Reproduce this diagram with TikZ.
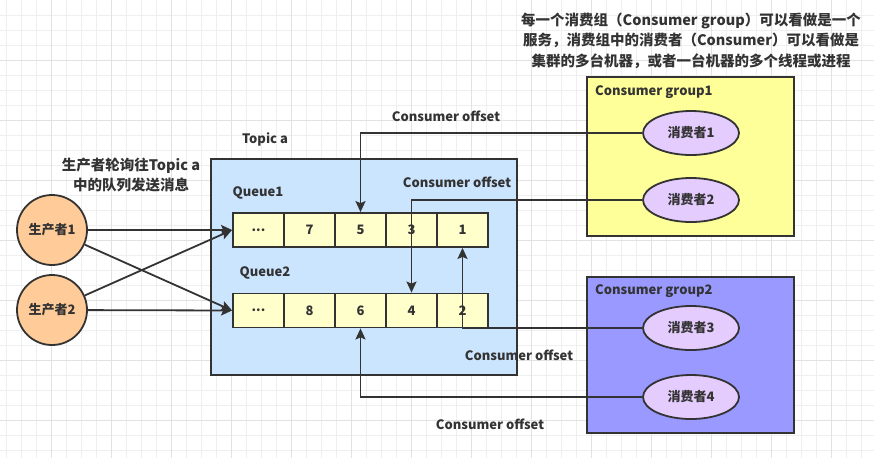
\documentclass[tikz,border=0pt]{standalone}
\usepackage{fontspec}
\setmainfont{Noto Sans CJK SC}
\usepackage{tikz}
\usetikzlibrary{positioning, shapes.geometric, arrows.meta}

\definecolor{ink}{HTML}{333333}
\definecolor{minorgrid}{HTML}{EFEFEF}
\definecolor{majorgrid}{HTML}{E2E2E2}
\definecolor{topicfill}{HTML}{CCE5FF}
\definecolor{cellfill}{HTML}{FFFFCC}
\definecolor{groupafill}{HTML}{FFFF99}
\definecolor{groupbfill}{HTML}{9999FF}
\definecolor{consumerfill}{HTML}{E5CCFF}
\definecolor{producerfill}{HTML}{FFCC99}

\newcommand{\celldots}{...}

\tikzset{
  producer/.style={circle, draw=ink, line width=1.8pt, fill=producerfill, minimum size=70pt, inner sep=0pt},
  cell/.style={draw=ink, line width=1.8pt, fill=cellfill, minimum width=51pt, minimum height=34pt, inner sep=0pt},
  groupbox/.style={draw=ink, line width=1.8pt, minimum width=207pt, inner sep=0pt},
  consumer/.style={ellipse, draw=ink, line width=1.8pt, fill=consumerfill, minimum width=96pt, minimum height=44pt, inner sep=0pt},
  bigtext/.style={align=center, font=\bfseries\fontsize{14.5}{20.5}\selectfont},
  flow/.style={draw=ink, line width=1.8pt, -{Stealth[length=11pt,width=10pt,inset=2pt]}},
  offsetline/.style={draw=ink, line width=1.8pt, -{Stealth[length=11pt,width=10pt,inset=2pt]}}
}

\begin{document}
\begin{tikzpicture}[x=1pt, y=-1pt, font=\bfseries\fontsize{13}{19}\selectfont, text=ink]
    \useasboundingbox (0,0) rectangle (874,458);

    % Draw background grid
    \foreach \k in {0,...,58} {
      \draw[minorgrid, line width=0.8pt] ({6.7+15*\k},0) -- ({6.7+15*\k},458);
    }
    \foreach \k in {1,...,30} {
      \draw[minorgrid, line width=0.8pt] (0,{15*\k}) -- (874,{15*\k});
    }
    \foreach \k in {0,...,14} {
      \draw[majorgrid, line width=0.8pt] ({51.7+60*\k},0) -- ({51.7+60*\k},458);
    }
    \foreach \k in {1,...,7} {
      \draw[majorgrid, line width=0.8pt] (0,{60*\k}) -- (874,{60*\k});
    }

    % Topic and its queues
    \node[draw=ink, line width=1.8pt, fill=topicfill, minimum width=306pt, minimum height=216pt] (topic) at (364,267) {};
    \node (topiclabel) at (265,139) {Topic a};
    \node (qalabel) at (258,193) {Queue1};
    \node (qblabel) at (265,273) {Queue2};
    \foreach \i/\v in {1/\celldots,2/7,3/5,4/3,5/1} {
      \node[cell] (qa\i) at ({207.5+51*\i},230) {\v};
    }
    \foreach \i/\v in {1/\celldots,2/8,3/6,4/4,5/2} {
      \node[cell] (qb\i) at ({207.5+51*\i},310.5) {\v};
    }

    % Producers
    \node[producer] (p1) at (52,230) {生产者1};
    \node[producer] (p2) at (52,310) {生产者2};
    \node[bigtext] (plabel) at (131,175) {生产者轮询往Topic a\\中的队列发送消息};

    % Consumer groups
    \node[groupbox, fill=groupafill, minimum height=159pt] (ga) at (690.5,156.5) {};
    \node[groupbox, fill=groupbfill, minimum height=156pt] (gb) at (690.5,355) {};
    \node[anchor=west, inner sep=0pt] (galabel) at (595,92) {Consumer group1};
    \node[anchor=west, inner sep=0pt] (gblabel) at (595,291) {Consumer group2};
    \node[consumer] (c1) at (691,133) {消费者1};
    \node[consumer] (c2) at (691,200) {消费者2};
    \node[consumer] (c3) at (691,328) {消费者3};
    \node[consumer] (c4) at (691,397) {消费者4};
    \node[bigtext] (note) at (691,40.5) {每一个消费组（Consumer group）可以看做是一个\\服务，消费组中的消费者（Consumer）可以看做是\\集群的多台机器，或者一台机器的多个线程或进程};

    % Producers send to queues
    \draw[flow] (p1) -- (qa1.west);
    \draw[flow] (p1) -- (qb1.west);
    \draw[flow] (p2) -- (qa1.west);
    \draw[flow] (p2) -- (qb1.west);

    % Consumer offsets
    \draw[offsetline] (c1.west) -| (qa3.north);
    \draw[offsetline] (c2.west) -| (qb4.north);
    \draw[offsetline] (c3.west) -| (qa5.south);
    \draw[offsetline] (c4.west) -| (qb3.south);
    \node (offa) at (446,116) {Consumer offset};
    \node (offb) at (457,182) {Consumer offset};
    \node (offc) at (519,355) {Consumer offset};
    \node (offd) at (490,424) {Consumer offset};
  \end{tikzpicture}
\end{document}
